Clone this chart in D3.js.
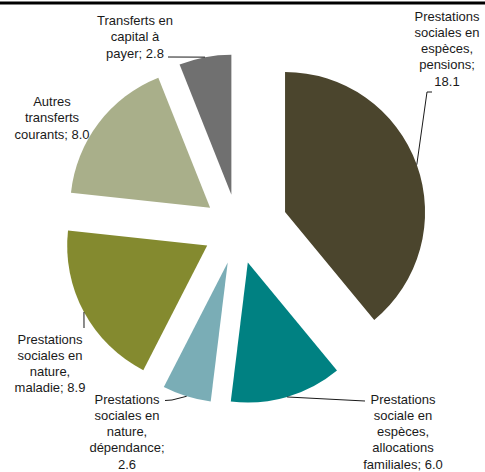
<!DOCTYPE html>
<html><head><meta charset="utf-8">
<script src="https://cdn.jsdelivr.net/npm/d3@7"></script>
<style>body{margin:0;background:#fff}svg{display:block}</style>
</head><body>
<svg id="chart" width="485" height="472"></svg>
<script>
const categories = [
  "Prestations sociales en espèces, pensions",
  "Prestations sociale en espèces, allocations familiales",
  "Prestations sociales en nature, dépendance",
  "Prestations sociales en nature, maladie",
  "Autres transferts courants",
  "Transferts en capital à payer"
];
const values = [18.1, 6.0, 2.6, 8.9, 8.0, 2.8];
const labelLines = [
  ["Prestations", "sociales en", "espèces,", "pensions;", "18.1"],
  ["Prestations", "sociale en", "espèces,", "allocations", "familiales; 6.0"],
  ["Prestations", "sociales en", "nature,", "dépendance;", "2.6"],
  ["Prestations", "sociales en", "nature,", "maladie; 8.9"],
  ["Autres", "transferts", "courants; 8.0"],
  ["Transferts en", "capital à", "payer; 2.8"]
];

const colors = ["#4b452d", "#008182", "#7aadb6", "#848a2f", "#a9af8a", "#707070"];
const explode = [50, 35, 35, 35, 35, 35];
// label layout: text center x, first line center y, leader elbow points (after arc point)
const layout = [
  {x: 447, y: 16, pts: [[427, 92], [432, 92]]},
  {x: 403, y: 399, pts: [[365, 401]]},
  {x: 127, y: 399, pts: [[172, 400], [165, 400.5]]},
  {x: 50, y: 339, pts: [[84, 328]]},
  {x: 52, y: 101.5, pts: null},
  {x: 135, y: 20.5, pts: [[168, 57]]}
];
const lineH = 16.3;

const svg = d3.select("#chart");
const cx = 238, cy = 229, R = 140;

svg.append("rect").attr("x", 0).attr("y", 1.5).attr("width", 485).attr("height", 3).attr("fill", "#000");

const pie = d3.pie().sort(null).value(d => d)(values);
const arc = d3.arc().innerRadius(0).outerRadius(R);
const edgeArc = d3.arc().innerRadius(R).outerRadius(R);

const g = svg.append("g").attr("transform", `translate(${cx},${cy})`);

pie.forEach((p, i) => {
  const mid = (p.startAngle + p.endAngle) / 2;
  const dx = Math.sin(mid) * explode[i], dy = -Math.cos(mid) * explode[i];
  g.append("path")
    .attr("d", arc(p))
    .attr("transform", `translate(${dx},${dy})`)
    .attr("fill", colors[i]);
  const L = layout[i];
  if (L.pts) {
    const c = edgeArc.centroid(p);
    const start = [cx + dx + c[0], cy + dy + c[1]];
    svg.append("path")
      .attr("d", d3.line()([start, ...L.pts]))
      .attr("fill", "none").attr("stroke", "#1a1a1a").attr("stroke-width", 1);
  }
  const t = svg.append("text")
    .attr("font-family", "Liberation Sans, Arial, sans-serif")
    .attr("font-size", 13)
    .attr("fill", "#1a1a1a")
    .attr("text-anchor", "middle");
  labelLines[i].forEach((ln, k) => {
    t.append("tspan").attr("x", L.x).attr("y", L.y + k * lineH).attr("dy", "0.35em").text(ln);
  });
});
</script>
</body></html>
